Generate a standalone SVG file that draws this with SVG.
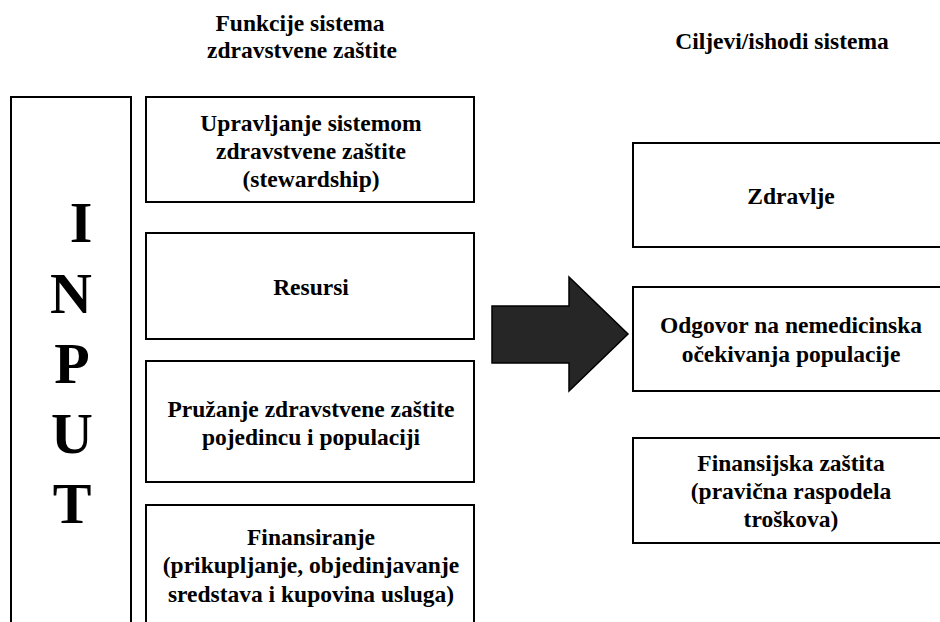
<svg xmlns="http://www.w3.org/2000/svg" width="940" height="622" viewBox="0 0 940 622">
<style>
.box{fill:#fff;stroke:#000;stroke-width:2}
.t{font-family:'Liberation Serif','DejaVu Serif',serif;font-weight:700;font-size:23.5px;fill:#000;text-anchor:middle}
.big{font-family:'Liberation Serif','DejaVu Serif',serif;font-weight:700;font-size:58px;fill:#000;text-anchor:middle}
.arrow{fill:#262626;stroke:#000;stroke-width:1.5;stroke-linejoin:miter}
</style>
<rect width="940" height="622" fill="#fff"/>
<g id="header-functions">
<text class="t" x="300" y="31">Funkcije sistema</text>
<text class="t" x="302" y="58">zdravstvene zaštite</text>
</g>
<g id="header-goals">
<text class="t" x="782" y="49">Ciljevi/ishodi sistema</text>
</g>
<g id="input">
<rect class="box" x="11" y="97" width="120" height="540"/>
<text class="big" x="81" y="242">I</text>
<text class="big" x="71" y="313">N</text>
<text class="big" x="72" y="383">P</text>
<text class="big" x="72" y="453">U</text>
<text class="big" x="72" y="523">T</text>
</g>
<g id="stewardship">
<rect class="box" x="146" y="97" width="328" height="105"/>
<text class="t" x="311" y="131">Upravljanje sistemom</text>
<text class="t" x="311" y="159">zdravstvene zaštite</text>
<text class="t" x="311" y="187">(stewardship)</text>
</g>
<g id="resources">
<rect class="box" x="146" y="233" width="328" height="106"/>
<text class="t" x="311" y="295">Resursi</text>
</g>
<g id="provision">
<rect class="box" x="146" y="361" width="328" height="121"/>
<text class="t" x="311" y="417">Pružanje zdravstvene zaštite</text>
<text class="t" x="311" y="445">pojedincu i populaciji</text>
</g>
<g id="financing">
<rect class="box" x="146" y="505" width="328" height="130"/>
<text class="t" x="311" y="545">Finansiranje</text>
<text class="t" x="311" y="573">(prikupljanje, objedinjavanje</text>
<text class="t" x="311" y="602">sredstava i kupovina usluga)</text>
</g>
<g id="connectors">
<polygon class="arrow" points="492,306 569,306 569,277 628,334 569,391 569,363 492,363"/>
</g>
<g id="health">
<rect class="box" x="633" y="143" width="320" height="104"/>
<text class="t" x="791" y="204">Zdravlje</text>
</g>
<g id="responsiveness">
<rect class="box" x="633" y="287" width="320" height="104"/>
<text class="t" x="791" y="333">Odgovor na nemedicinska</text>
<text class="t" x="791" y="362">očekivanja populacije</text>
</g>
<g id="financial-protection">
<rect class="box" x="633" y="438" width="320" height="105"/>
<text class="t" x="791" y="471">Finansijska zaštita</text>
<text class="t" x="791" y="499">(pravična raspodela</text>
<text class="t" x="791" y="527">troškova)</text>
</g>
</svg>
